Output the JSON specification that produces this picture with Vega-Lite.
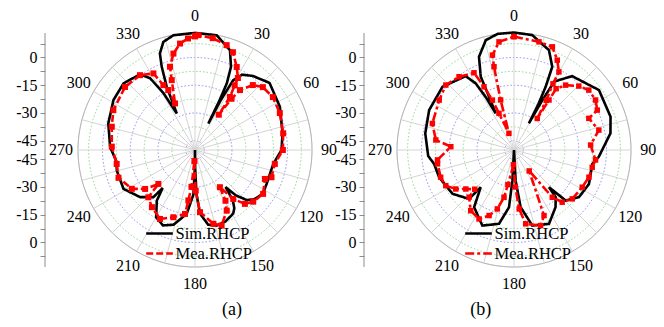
{
"$schema": "https://vega.github.io/schema/vega-lite/v6.json",
"background": "white",
"padding": 0,
"autosize": {"type": "pad"},
"spacing": 0,
"bounds": "flush",
"config": {"font": "Liberation Serif, Times New Roman, serif", "view": {"stroke": null}, "text": {"font": "Liberation Serif, Times New Roman, serif"}},
"resolve": {"scale": {"color": "independent", "strokeDash": "independent"}, "legend": {"color": "independent", "strokeDash": "independent"}},
"datasets": {
"grid": [{"R":5,"kind":"major"},{"R":12.5,"kind":"minor"},{"R":20,"kind":"major"},{"R":27.5,"kind":"minor"},{"R":35,"kind":"major"},{"R":42.5,"kind":"minor"},{"R":50,"kind":"major"},{"R":57.5,"kind":"minor"},{"R":63.24,"kind":"outer"}],
"spokes": [{"ang":0},{"ang":15},{"ang":30},{"ang":45},{"ang":60},{"ang":75},{"ang":90},{"ang":105},{"ang":120},{"ang":135},{"ang":150},{"ang":165},{"ang":180},{"ang":195},{"ang":210},{"ang":225},{"ang":240},{"ang":255},{"ang":270},{"ang":285},{"ang":300},{"ang":315},{"ang":330},{"ang":345}],
"angles": [{"ang":0,"t":"0"},{"ang":30,"t":"30"},{"ang":60,"t":"60"},{"ang":90,"t":"90"},{"ang":120,"t":"120"},{"ang":150,"t":"150"},{"ang":180,"t":"180"},{"ang":210,"t":"210"},{"ang":240,"t":"240"},{"ang":270,"t":"270"},{"ang":300,"t":"300"},{"ang":330,"t":"330"}],
"curveA": [
{"s":"Sim.RHCP","ang":0,"db":13.3},{"s":"Sim.RHCP","ang":10.7,"db":13.1},{"s":"Sim.RHCP","ang":19.3,"db":7.2},{"s":"Sim.RHCP","ang":23.4,"db":-1},{"s":"Sim.RHCP","ang":25.5,"db":-10},{"s":"Sim.RHCP","ang":26.3,"db":-20},{"s":"Sim.RHCP","ang":26.8,"db":-34},{"s":"Sim.RHCP","ang":27.3,"db":-20},{"s":"Sim.RHCP","ang":28.7,"db":-7},{"s":"Sim.RHCP","ang":32,"db":-2},{"s":"Sim.RHCP","ang":38,"db":0.8},{"s":"Sim.RHCP","ang":48,"db":4.2},{"s":"Sim.RHCP","ang":63,"db":1.5},{"s":"Sim.RHCP","ang":79,"db":-1.8},{"s":"Sim.RHCP","ang":90,"db":-3.2},{"s":"Sim.RHCP","ang":100,"db":-7},{"s":"Sim.RHCP","ang":115,"db":-7.2},{"s":"Sim.RHCP","ang":123,"db":-6.3},{"s":"Sim.RHCP","ang":130,"db":-8.5},{"s":"Sim.RHCP","ang":134,"db":-11},{"s":"Sim.RHCP","ang":138,"db":-17},{"s":"Sim.RHCP","ang":140.5,"db":-24},{"s":"Sim.RHCP","ang":143,"db":-16},{"s":"Sim.RHCP","ang":146,"db":-12},{"s":"Sim.RHCP","ang":149,"db":-9.9},{"s":"Sim.RHCP","ang":157,"db":-8},{"s":"Sim.RHCP","ang":164,"db":-7.5},{"s":"Sim.RHCP","ang":170,"db":-9},{"s":"Sim.RHCP","ang":175.5,"db":-15.5},{"s":"Sim.RHCP","ang":178,"db":-26},{"s":"Sim.RHCP","ang":179.5,"db":-40},{"s":"Sim.RHCP","ang":180,"db":-50},{"s":"Sim.RHCP","ang":180.5,"db":-40},{"s":"Sim.RHCP","ang":182,"db":-26},{"s":"Sim.RHCP","ang":187.4,"db":-15.2},{"s":"Sim.RHCP","ang":196,"db":-8},{"s":"Sim.RHCP","ang":203,"db":-5.7},{"s":"Sim.RHCP","ang":210,"db":-8},{"s":"Sim.RHCP","ang":217,"db":-15.7},{"s":"Sim.RHCP","ang":220.4,"db":-23},{"s":"Sim.RHCP","ang":221.4,"db":-16},{"s":"Sim.RHCP","ang":229.3,"db":-10.9},{"s":"Sim.RHCP","ang":241.5,"db":-6},{"s":"Sim.RHCP","ang":255,"db":-6.3},{"s":"Sim.RHCP","ang":262,"db":-7},{"s":"Sim.RHCP","ang":272,"db":-4.1},{"s":"Sim.RHCP","ang":287,"db":-1},{"s":"Sim.RHCP","ang":301.5,"db":1.7},{"s":"Sim.RHCP","ang":313,"db":2.8},{"s":"Sim.RHCP","ang":324,"db":0.6},{"s":"Sim.RHCP","ang":328,"db":-4.3},{"s":"Sim.RHCP","ang":331,"db":-15},{"s":"Sim.RHCP","ang":333.5,"db":-28},{"s":"Sim.RHCP","ang":335.9,"db":-12.6},{"s":"Sim.RHCP","ang":338.2,"db":-1.6},{"s":"Sim.RHCP","ang":340,"db":5.5},{"s":"Sim.RHCP","ang":343.7,"db":10.9},{"s":"Sim.RHCP","ang":349.3,"db":13.1},{"s":"Sim.RHCP","ang":360,"db":13.3},
{"s":"Mea.RHCP","ang":0,"db":11.5},{"s":"Mea.RHCP","ang":1.7,"db":12.1},{"s":"Mea.RHCP","ang":9,"db":11.2},{"s":"Mea.RHCP","ang":16.8,"db":9.2},{"s":"Mea.RHCP","ang":21.2,"db":6.7},{"s":"Mea.RHCP","ang":26.7,"db":0.2},{"s":"Mea.RHCP","ang":30.8,"db":-4.7},{"s":"Mea.RHCP","ang":31.6,"db":-9},{"s":"Mea.RHCP","ang":33.4,"db":-15.7},{"s":"Mea.RHCP","ang":34,"db":-27},{"s":"Mea.RHCP","ang":35.5,"db":-16},{"s":"Mea.RHCP","ang":36.9,"db":-9.5},{"s":"Mea.RHCP","ang":41.7,"db":-3},{"s":"Mea.RHCP","ang":47.2,"db":0},{"s":"Mea.RHCP","ang":55.8,"db":0.9},{"s":"Mea.RHCP","ang":66.5,"db":0},{"s":"Mea.RHCP","ang":79.3,"db":-1.5},{"s":"Mea.RHCP","ang":90,"db":-2.5},{"s":"Mea.RHCP","ang":99.9,"db":-6.2},{"s":"Mea.RHCP","ang":109.6,"db":-6.1},{"s":"Mea.RHCP","ang":112.5,"db":-9.1},{"s":"Mea.RHCP","ang":122.8,"db":-6.2},{"s":"Mea.RHCP","ang":131.6,"db":-7.9},{"s":"Mea.RHCP","ang":137.2,"db":-10.3},{"s":"Mea.RHCP","ang":142,"db":-16.4},{"s":"Mea.RHCP","ang":146.2,"db":-25.8},{"s":"Mea.RHCP","ang":149,"db":-18},{"s":"Mea.RHCP","ang":152.4,"db":-13},{"s":"Mea.RHCP","ang":160.6,"db":-6.7},{"s":"Mea.RHCP","ang":166,"db":-8.9},{"s":"Mea.RHCP","ang":175.4,"db":-16.3},{"s":"Mea.RHCP","ang":179,"db":-28},{"s":"Mea.RHCP","ang":183,"db":-44},{"s":"Mea.RHCP","ang":185.5,"db":-30},{"s":"Mea.RHCP","ang":187.5,"db":-22.5},{"s":"Mea.RHCP","ang":188.9,"db":-15},{"s":"Mea.RHCP","ang":197.9,"db":-11.8},{"s":"Mea.RHCP","ang":206.9,"db":-8.2},{"s":"Mea.RHCP","ang":217,"db":-11.3},{"s":"Mea.RHCP","ang":224.6,"db":-14.1},{"s":"Mea.RHCP","ang":227.2,"db":-23},{"s":"Mea.RHCP","ang":232,"db":-15.8},{"s":"Mea.RHCP","ang":238.4,"db":-9.9},{"s":"Mea.RHCP","ang":250,"db":-6},{"s":"Mea.RHCP","ang":259.9,"db":-7},{"s":"Mea.RHCP","ang":272.3,"db":-5},{"s":"Mea.RHCP","ang":285.6,"db":-3.3},{"s":"Mea.RHCP","ang":296,"db":-0.9},{"s":"Mea.RHCP","ang":312,"db":0.9},{"s":"Mea.RHCP","ang":323.7,"db":0.2},{"s":"Mea.RHCP","ang":331.5,"db":-2.9},{"s":"Mea.RHCP","ang":334,"db":-11},{"s":"Mea.RHCP","ang":336,"db":-14.5},{"s":"Mea.RHCP","ang":336.8,"db":-22.6},{"s":"Mea.RHCP","ang":341.6,"db":-10.2},{"s":"Mea.RHCP","ang":343.3,"db":-3},{"s":"Mea.RHCP","ang":347.4,"db":3.4},{"s":"Mea.RHCP","ang":352,"db":8.1},{"s":"Mea.RHCP","ang":356.4,"db":10.4},{"s":"Mea.RHCP","ang":360,"db":11.5}
],
"curveB": [
{"s":"Sim.RHCP","ang":0,"db":13.5},{"s":"Sim.RHCP","ang":9,"db":12.9},{"s":"Sim.RHCP","ang":19.3,"db":7.2},{"s":"Sim.RHCP","ang":24.7,"db":-0.5},{"s":"Sim.RHCP","ang":26.6,"db":-11.8},{"s":"Sim.RHCP","ang":28,"db":-22},{"s":"Sim.RHCP","ang":29.2,"db":-33.5},{"s":"Sim.RHCP","ang":29.6,"db":-20},{"s":"Sim.RHCP","ang":30.5,"db":-7},{"s":"Sim.RHCP","ang":38.2,"db":0.8},{"s":"Sim.RHCP","ang":54.8,"db":6.2},{"s":"Sim.RHCP","ang":71,"db":5.2},{"s":"Sim.RHCP","ang":80.2,"db":2.9},{"s":"Sim.RHCP","ang":94.5,"db":-4},{"s":"Sim.RHCP","ang":100,"db":-7},{"s":"Sim.RHCP","ang":114.4,"db":-5.5},{"s":"Sim.RHCP","ang":126,"db":-6.6},{"s":"Sim.RHCP","ang":134.4,"db":-11},{"s":"Sim.RHCP","ang":136.8,"db":-22.4},{"s":"Sim.RHCP","ang":138.5,"db":-16},{"s":"Sim.RHCP","ang":144,"db":-11.8},{"s":"Sim.RHCP","ang":154.7,"db":-5.8},{"s":"Sim.RHCP","ang":166.4,"db":-8},{"s":"Sim.RHCP","ang":173.4,"db":-18.9},{"s":"Sim.RHCP","ang":177,"db":-33.4},{"s":"Sim.RHCP","ang":180,"db":-50},{"s":"Sim.RHCP","ang":183,"db":-33.4},{"s":"Sim.RHCP","ang":185,"db":-18.9},{"s":"Sim.RHCP","ang":191.5,"db":-9.3},{"s":"Sim.RHCP","ang":202.7,"db":-5.7},{"s":"Sim.RHCP","ang":214.9,"db":-12.3},{"s":"Sim.RHCP","ang":221.8,"db":-23},{"s":"Sim.RHCP","ang":222.6,"db":-14.1},{"s":"Sim.RHCP","ang":234.5,"db":-9.2},{"s":"Sim.RHCP","ang":250,"db":-6.9},{"s":"Sim.RHCP","ang":260,"db":-6.2},{"s":"Sim.RHCP","ang":266,"db":-3.5},{"s":"Sim.RHCP","ang":280.6,"db":-1.2},{"s":"Sim.RHCP","ang":295.2,"db":0.7},{"s":"Sim.RHCP","ang":311.5,"db":1.6},{"s":"Sim.RHCP","ang":326.8,"db":-2.3},{"s":"Sim.RHCP","ang":330.1,"db":-8.5},{"s":"Sim.RHCP","ang":332,"db":-18},{"s":"Sim.RHCP","ang":333.4,"db":-27.9},{"s":"Sim.RHCP","ang":334.9,"db":-18.2},{"s":"Sim.RHCP","ang":335.6,"db":-6.5},{"s":"Sim.RHCP","ang":339.4,"db":3.8},{"s":"Sim.RHCP","ang":345.6,"db":11.3},{"s":"Sim.RHCP","ang":352,"db":13.4},{"s":"Sim.RHCP","ang":360,"db":13.5},
{"s":"Mea.RHCP","ang":0,"db":11.3},{"s":"Mea.RHCP","ang":13,"db":10},{"s":"Mea.RHCP","ang":20.4,"db":9.5},{"s":"Mea.RHCP","ang":25.7,"db":3.9},{"s":"Mea.RHCP","ang":29.9,"db":-1.3},{"s":"Mea.RHCP","ang":30.5,"db":-8.5},{"s":"Mea.RHCP","ang":33,"db":-18},{"s":"Mea.RHCP","ang":36.4,"db":-28.8},{"s":"Mea.RHCP","ang":35,"db":-17},{"s":"Mea.RHCP","ang":34.5,"db":-9.8},{"s":"Mea.RHCP","ang":38.5,"db":-5.2},{"s":"Mea.RHCP","ang":45.4,"db":-0.8},{"s":"Mea.RHCP","ang":51.3,"db":1.8},{"s":"Mea.RHCP","ang":58.5,"db":1.7},{"s":"Mea.RHCP","ang":64.4,"db":-0.1},{"s":"Mea.RHCP","ang":67.1,"db":-6.1},{"s":"Mea.RHCP","ang":76.8,"db":-2.9},{"s":"Mea.RHCP","ang":86.3,"db":-8.5},{"s":"Mea.RHCP","ang":97,"db":-5.6},{"s":"Mea.RHCP","ang":102.5,"db":-6.7},{"s":"Mea.RHCP","ang":110,"db":-6.9},{"s":"Mea.RHCP","ang":118.6,"db":-8},{"s":"Mea.RHCP","ang":130,"db":-8.9},{"s":"Mea.RHCP","ang":137.3,"db":-11.6},{"s":"Mea.RHCP","ang":141,"db":-17.1},{"s":"Mea.RHCP","ang":144,"db":-36},{"s":"Mea.RHCP","ang":155.4,"db":-11},{"s":"Mea.RHCP","ang":160.6,"db":-6.7},{"s":"Mea.RHCP","ang":171,"db":-9.6},{"s":"Mea.RHCP","ang":175,"db":-18},{"s":"Mea.RHCP","ang":178,"db":-30},{"s":"Mea.RHCP","ang":182,"db":-42},{"s":"Mea.RHCP","ang":190,"db":-31},{"s":"Mea.RHCP","ang":191.9,"db":-23.9},{"s":"Mea.RHCP","ang":195.8,"db":-16.9},{"s":"Mea.RHCP","ang":200.8,"db":-12.1},{"s":"Mea.RHCP","ang":206.9,"db":-8.2},{"s":"Mea.RHCP","ang":215.5,"db":-9.7},{"s":"Mea.RHCP","ang":223.6,"db":-14.8},{"s":"Mea.RHCP","ang":225,"db":-20},{"s":"Mea.RHCP","ang":231,"db":-16.5},{"s":"Mea.RHCP","ang":236.2,"db":-12.1},{"s":"Mea.RHCP","ang":242.4,"db":-8.4},{"s":"Mea.RHCP","ang":249.6,"db":-7.7},{"s":"Mea.RHCP","ang":259.7,"db":-8},{"s":"Mea.RHCP","ang":262.6,"db":-8.3},{"s":"Mea.RHCP","ang":273,"db":-15.8},{"s":"Mea.RHCP","ang":277.3,"db":-7.4},{"s":"Mea.RHCP","ang":288,"db":-3.6},{"s":"Mea.RHCP","ang":303.7,"db":-1.4},{"s":"Mea.RHCP","ang":313.6,"db":0.9},{"s":"Mea.RHCP","ang":323.1,"db":-0.5},{"s":"Mea.RHCP","ang":332.6,"db":-3},{"s":"Mea.RHCP","ang":334.6,"db":-12.2},{"s":"Mea.RHCP","ang":336.6,"db":-20.6},{"s":"Mea.RHCP","ang":337.7,"db":-28.6},{"s":"Mea.RHCP","ang":343,"db":-40.6},{"s":"Mea.RHCP","ang":345,"db":-22},{"s":"Mea.RHCP","ang":346.5,"db":-3.7},{"s":"Mea.RHCP","ang":347.2,"db":2.6},{"s":"Mea.RHCP","ang":352.1,"db":9},{"s":"Mea.RHCP","ang":360,"db":11.3}
]
},
"hconcat": [
{
"width": 319, "height": 327,
"layer": [
{"data": {"name": "grid"},
 "transform": [{"calculate": "0", "as": "o"}],
 "mark": {"type": "point", "shape": "circle", "filled": false, "opacity": 1, "strokeWidth": 1},
 "encoding": {
  "x": {"field": "o", "type": "quantitative", "scale": {"domain": [-105.41, 67.03], "nice": false, "zero": false}, "axis": null},
  "y": {"field": "o", "type": "quantitative", "scale": {"domain": [-95.68, 81.08], "nice": false, "zero": false},
        "axis": {"orient": "left", "offset": -45, "domain": false, "grid": false, "title": null, "tickCount": 100,
                 "values": [-57.5,-50,-42.5,-35,-27.5,-20,-12.5,-5,5,12.5,20,27.5,35,42.5,50,57.5],
                 "labelExpr": "(abs(datum.value) - 5) % 15 == 0 ? (abs(datum.value) == 50 ? '0' : '-' + (50 - abs(datum.value))) : ''",
                 "tickSize": 5, "ticks": true,
                 "tickColor": "#8c8c8c", "labelFont": "Liberation Serif, Times New Roman, serif", "labelFontSize": 16, "labelColor": "#000000", "labelPadding": 3, "labelOverlap": false, "labelBound": false, "labelFlush": false}},
  "size": {"field": "R", "type": "quantitative", "scale": {"type": "pow", "exponent": 2, "domain": [0, 100], "range": [0, 136900], "zero": true}, "legend": null},
  "stroke": {"condition": [{"test": "datum.kind == 'minor'", "value": "#8fd68f"}, {"test": "datum.kind == 'outer'", "value": "#9a9a9a"}], "value": "#8c8cf0"},
  "strokeDash": {"condition": {"test": "datum.kind == 'outer'", "value": [1, 0]}, "value": [1.5, 2]}}},
{"data": {"name": "spokes"},
 "transform": [{"calculate": "0", "as": "o"}, {"calculate": "63.24*sin(datum.ang*PI/180)", "as": "sx"}, {"calculate": "63.24*cos(datum.ang*PI/180)", "as": "sy"}],
 "mark": {"type": "rule", "color": "#d4d4d4", "strokeWidth": 1},
 "encoding": {
  "x": {"field": "o", "type": "quantitative", "axis": null},
  "y": {"field": "o", "type": "quantitative"},
  "x2": {"field": "sx"}, "y2": {"field": "sy"}}},
{"data": {"values": [{}]},
 "transform": [{"calculate": "-81.08", "as": "ax"}, {"calculate": "-63.24", "as": "ya"}, {"calculate": "63.24", "as": "yb"}],
 "mark": {"type": "rule", "color": "#8c8c8c", "strokeWidth": 1},
 "encoding": {
  "x": {"field": "ax", "type": "quantitative", "axis": null},
  "y": {"field": "ya", "type": "quantitative"},
  "y2": {"field": "yb"}}},
{"data": {"name": "curveA"},
 "transform": [{"window": [{"op": "row_number", "as": "i"}]}, {"calculate": "max(datum.db+50,0)", "as": "R"}, {"calculate": "datum.R*sin(datum.ang*PI/180)", "as": "px"}, {"calculate": "datum.R*cos(datum.ang*PI/180)", "as": "py"}],
 "mark": {"type": "line", "strokeWidth": 2.6},
 "encoding": {
  "x": {"field": "px", "type": "quantitative", "axis": null},
  "y": {"field": "py", "type": "quantitative"},
  "order": {"field": "i", "type": "quantitative"},
  "color": {"field": "s", "type": "nominal", "scale": {"domain": ["Sim.RHCP", "Mea.RHCP"], "range": ["#000000", "#ff0000"]},
            "legend": {"title": null, "orient": "none", "legendX": 148.5, "legendY": 222.5, "symbolType": "M-1.4,0H1.4", "symbolSize": 361, "symbolStrokeWidth": 2.6, "labelFont": "Liberation Serif, Times New Roman, serif", "labelFontSize": 16.5, "labelColor": "#000000", "labelOffset": 5, "padding": 0, "rowPadding": 0}},
  "strokeDash": {"field": "s", "type": "nominal", "scale": {"domain": ["Sim.RHCP", "Mea.RHCP"], "range": [[1, 0], [7, 3]]},
            "legend": {"title": null, "orient": "none", "legendX": 148.5, "legendY": 222.5, "symbolType": "M-1.4,0H1.4", "symbolSize": 361, "symbolStrokeWidth": 2.6, "labelFont": "Liberation Serif, Times New Roman, serif", "labelFontSize": 16.5, "labelColor": "#000000", "labelOffset": 5, "padding": 0, "rowPadding": 0}}}},
{"data": {"name": "curveA"},
 "transform": [{"filter": "datum.s == 'Mea.RHCP'"}, {"calculate": "max(datum.db+50,0)", "as": "R"}, {"calculate": "datum.R*sin(datum.ang*PI/180)", "as": "px"}, {"calculate": "datum.R*cos(datum.ang*PI/180)", "as": "py"}],
 "mark": {"type": "point", "shape": "square", "filled": true, "size": 36, "color": "#ff0000", "opacity": 1},
 "encoding": {
  "x": {"field": "px", "type": "quantitative", "axis": null},
  "y": {"field": "py", "type": "quantitative"}}},
{"data": {"name": "angles"},
 "transform": [{"calculate": "72.5*sin(datum.ang*PI/180)", "as": "lx"}, {"calculate": "72.5*cos(datum.ang*PI/180)", "as": "ly"}],
 "mark": {"type": "text", "fontSize": 16, "color": "#000000", "align": "center", "baseline": "middle"},
 "encoding": {
  "x": {"field": "lx", "type": "quantitative", "axis": null},
  "y": {"field": "ly", "type": "quantitative"},
  "text": {"field": "t"}}},
{"data": {"values": [{"t": "(a)"}]},
 "transform": [{"calculate": "20", "as": "tx"}, {"calculate": "-86.5", "as": "ty"}],
 "mark": {"type": "text", "fontSize": 18, "color": "#000000", "align": "center", "baseline": "middle"},
 "encoding": {
  "x": {"field": "tx", "type": "quantitative", "axis": null},
  "y": {"field": "ty", "type": "quantitative"},
  "text": {"field": "t"}}}
]
},
{
"width": 345, "height": 327,
"layer": [
{"data": {"name": "grid"},
 "transform": [{"calculate": "0", "as": "o"}],
 "mark": {"type": "point", "shape": "circle", "filled": false, "opacity": 1, "strokeWidth": 1},
 "encoding": {
  "x": {"field": "o", "type": "quantitative", "scale": {"domain": [-105.41, 81.08], "nice": false, "zero": false}, "axis": null},
  "y": {"field": "o", "type": "quantitative", "scale": {"domain": [-95.68, 81.08], "nice": false, "zero": false},
        "axis": {"orient": "left", "offset": -45, "domain": false, "grid": false, "title": null, "tickCount": 100,
                 "values": [-57.5,-50,-42.5,-35,-27.5,-20,-12.5,-5,5,12.5,20,27.5,35,42.5,50,57.5],
                 "labelExpr": "(abs(datum.value) - 5) % 15 == 0 ? (abs(datum.value) == 50 ? '0' : '-' + (50 - abs(datum.value))) : ''",
                 "tickSize": 5, "ticks": true,
                 "tickColor": "#8c8c8c", "labelFont": "Liberation Serif, Times New Roman, serif", "labelFontSize": 16, "labelColor": "#000000", "labelPadding": 3, "labelOverlap": false, "labelBound": false, "labelFlush": false}},
  "size": {"field": "R", "type": "quantitative", "scale": {"type": "pow", "exponent": 2, "domain": [0, 100], "range": [0, 136900], "zero": true}, "legend": null},
  "stroke": {"condition": [{"test": "datum.kind == 'minor'", "value": "#8fd68f"}, {"test": "datum.kind == 'outer'", "value": "#9a9a9a"}], "value": "#8c8cf0"},
  "strokeDash": {"condition": {"test": "datum.kind == 'outer'", "value": [1, 0]}, "value": [1.5, 2]}}},
{"data": {"name": "spokes"},
 "transform": [{"calculate": "0", "as": "o"}, {"calculate": "63.24*sin(datum.ang*PI/180)", "as": "sx"}, {"calculate": "63.24*cos(datum.ang*PI/180)", "as": "sy"}],
 "mark": {"type": "rule", "color": "#d4d4d4", "strokeWidth": 1},
 "encoding": {
  "x": {"field": "o", "type": "quantitative", "axis": null},
  "y": {"field": "o", "type": "quantitative"},
  "x2": {"field": "sx"}, "y2": {"field": "sy"}}},
{"data": {"values": [{}]},
 "transform": [{"calculate": "-81.08", "as": "ax"}, {"calculate": "-63.24", "as": "ya"}, {"calculate": "63.24", "as": "yb"}],
 "mark": {"type": "rule", "color": "#8c8c8c", "strokeWidth": 1},
 "encoding": {
  "x": {"field": "ax", "type": "quantitative", "axis": null},
  "y": {"field": "ya", "type": "quantitative"},
  "y2": {"field": "yb"}}},
{"data": {"name": "curveB"},
 "transform": [{"window": [{"op": "row_number", "as": "i"}]}, {"calculate": "max(datum.db+50,0)", "as": "R"}, {"calculate": "datum.R*sin(datum.ang*PI/180)", "as": "px"}, {"calculate": "datum.R*cos(datum.ang*PI/180)", "as": "py"}],
 "mark": {"type": "line", "strokeWidth": 2.6},
 "encoding": {
  "x": {"field": "px", "type": "quantitative", "axis": null},
  "y": {"field": "py", "type": "quantitative"},
  "order": {"field": "i", "type": "quantitative"},
  "color": {"field": "s", "type": "nominal", "scale": {"domain": ["Sim.RHCP", "Mea.RHCP"], "range": ["#000000", "#ff0000"]},
            "legend": {"title": null, "orient": "none", "legendX": 148.5, "legendY": 222.5, "symbolType": "M-1.4,0H1.4", "symbolSize": 361, "symbolStrokeWidth": 2.6, "labelFont": "Liberation Serif, Times New Roman, serif", "labelFontSize": 16.5, "labelColor": "#000000", "labelOffset": 5, "padding": 0, "rowPadding": 0}},
  "strokeDash": {"field": "s", "type": "nominal", "scale": {"domain": ["Sim.RHCP", "Mea.RHCP"], "range": [[1, 0], [9, 3, 3, 3]]},
            "legend": {"title": null, "orient": "none", "legendX": 148.5, "legendY": 222.5, "symbolType": "M-1.4,0H1.4", "symbolSize": 361, "symbolStrokeWidth": 2.6, "labelFont": "Liberation Serif, Times New Roman, serif", "labelFontSize": 16.5, "labelColor": "#000000", "labelOffset": 5, "padding": 0, "rowPadding": 0}}}},
{"data": {"name": "curveB"},
 "transform": [{"filter": "datum.s == 'Mea.RHCP'"}, {"calculate": "max(datum.db+50,0)", "as": "R"}, {"calculate": "datum.R*sin(datum.ang*PI/180)", "as": "px"}, {"calculate": "datum.R*cos(datum.ang*PI/180)", "as": "py"}],
 "mark": {"type": "point", "shape": "square", "filled": true, "size": 30, "color": "#ff0000", "opacity": 1},
 "encoding": {
  "x": {"field": "px", "type": "quantitative", "axis": null},
  "y": {"field": "py", "type": "quantitative"}}},
{"data": {"name": "angles"},
 "transform": [{"calculate": "72.5*sin(datum.ang*PI/180)", "as": "lx"}, {"calculate": "72.5*cos(datum.ang*PI/180)", "as": "ly"}],
 "mark": {"type": "text", "fontSize": 16, "color": "#000000", "align": "center", "baseline": "middle"},
 "encoding": {
  "x": {"field": "lx", "type": "quantitative", "axis": null},
  "y": {"field": "ly", "type": "quantitative"},
  "text": {"field": "t"}}},
{"data": {"values": [{"t": "(b)"}]},
 "transform": [{"calculate": "-18", "as": "tx"}, {"calculate": "-86.5", "as": "ty"}],
 "mark": {"type": "text", "fontSize": 18, "color": "#000000", "align": "center", "baseline": "middle"},
 "encoding": {
  "x": {"field": "tx", "type": "quantitative", "axis": null},
  "y": {"field": "ty", "type": "quantitative"},
  "text": {"field": "t"}}}
]
}
]
}
